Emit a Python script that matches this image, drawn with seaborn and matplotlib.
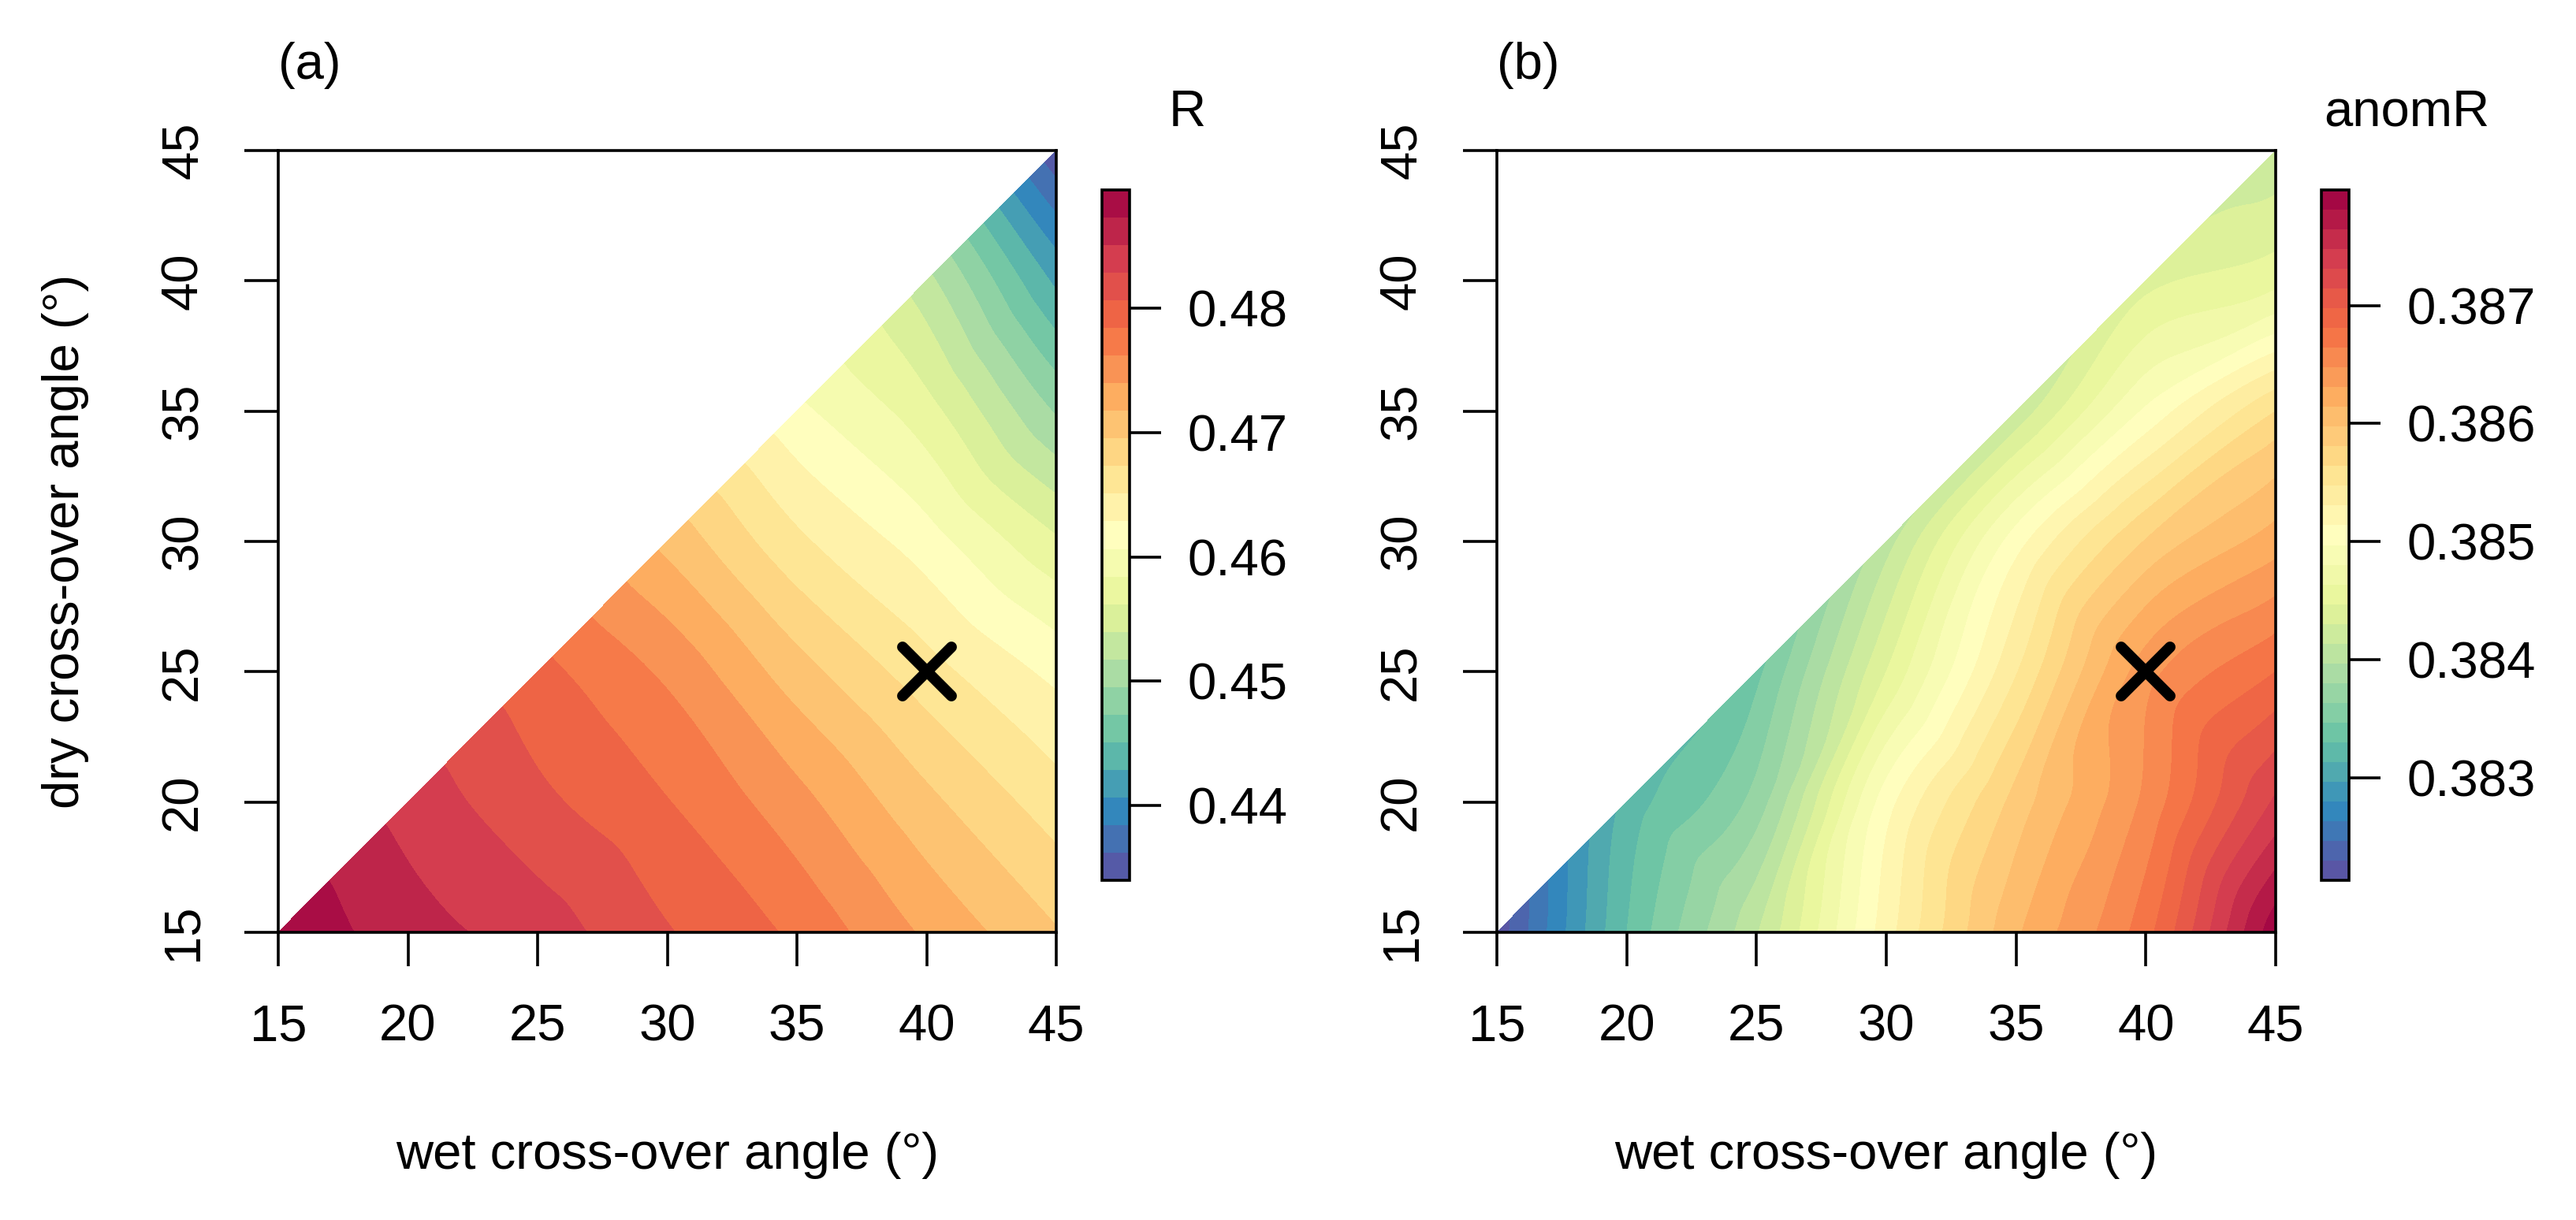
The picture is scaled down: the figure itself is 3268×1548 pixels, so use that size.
import numpy as np
import pandas as pd
import matplotlib
matplotlib.use("Agg")
import matplotlib.pyplot as plt
import matplotlib.tri as mtri
from matplotlib.markers import MarkerStyle
import seaborn as sns

sns.set_theme(style="white")
plt.rcParams['font.family'] = ['Liberation Sans', 'DejaVu Sans']
plt.rcParams.update({'text.color': 'black', 'axes.labelcolor': 'black',
                     'xtick.color': 'black', 'ytick.color': 'black'})

nan = np.nan
angles = [15, 20, 25, 30, 35, 40, 45]

# rows: dry cross-over angle 15 -> 45, columns: wet cross-over angle 15 -> 45
r_values = [
    [0.4893, 0.4860, 0.4840, 0.4808, 0.4779, 0.4736, 0.4697],
    [nan, 0.4842, 0.4812, 0.4785, 0.4747, 0.4701, 0.4661],
    [nan, nan, 0.4791, 0.4757, 0.4705, 0.4660, 0.4622],
    [nan, nan, nan, 0.4711, 0.4656, 0.4616, 0.4565],
    [nan, nan, nan, nan, 0.4612, 0.4570, 0.4493],
    [nan, nan, nan, nan, nan, 0.4524, 0.4424],
    [nan, nan, nan, nan, nan, nan, 0.4345],
]
anom_values = [
    [0.38219, 0.38330, 0.38412, 0.38523, 0.38611, 0.38675, 0.38792],
    [nan, 0.38318, 0.38371, 0.38506, 0.38587, 0.38652, 0.38734],
    [nan, nan, 0.38342, 0.38447, 0.38546, 0.38640, 0.38681],
    [nan, nan, nan, 0.38406, 0.38506, 0.38582, 0.38623],
    [nan, nan, nan, nan, 0.38418, 0.38500, 0.38564],
    [nan, nan, nan, nan, nan, 0.38441, 0.38459],
    [nan, nan, nan, nan, nan, nan, 0.38418],
]

r_range = (0.4340, 0.4895)
anom_range = (0.38213, 0.38798)
r_ticks = [0.44, 0.45, 0.46, 0.47, 0.48]
anom_ticks = [0.383, 0.384, 0.385, 0.386, 0.387]
axis_ticks = [15, 20, 25, 30, 35, 40, 45]
best_wet, best_dry = 40, 25

cmap = sns.color_palette("Spectral_r", as_cmap=True)
W, H = 3268, 1548
FS = 23.5
LW = 1.3


def to_long(values):
    df = pd.DataFrame(values, index=angles, columns=angles)
    df.index.name = "dry"
    df = df.reset_index().melt(id_vars="dry", var_name="wet", value_name="z")
    return df.dropna()


def draw_panel(fig, ax_box, cax_box, values, vrange, nband, ticks, fmt, key_title, tag, ylabel):
    ax = fig.add_axes([ax_box[0] / W, 1 - ax_box[3] / H, (ax_box[2] - ax_box[0]) / W, (ax_box[3] - ax_box[1]) / H])
    cax = fig.add_axes([cax_box[0] / W, 1 - cax_box[3] / H, (cax_box[2] - cax_box[0]) / W, (cax_box[3] - cax_box[1]) / H])

    d = to_long(values)
    tri = mtri.Triangulation(d["wet"].astype(float).values, d["dry"].astype(float).values)
    interp = mtri.CubicTriInterpolator(tri, d["z"].values, kind="geom")
    tri_f, z_f = mtri.UniformTriRefiner(tri).refine_field(d["z"].values, triinterpolator=interp, subdiv=4)
    levels = np.linspace(vrange[0], vrange[1], nband + 1)
    eps = (vrange[1] - vrange[0]) * 1e-6
    cs = ax.tricontourf(tri_f, np.clip(z_f, vrange[0] + eps, vrange[1] - eps), levels=levels, cmap=cmap)

    ax.plot(best_wet, best_dry, linestyle="none", color="black",
            marker=MarkerStyle("x", capstyle="round"), ms=22, mew=5.0)

    ax.set_xlim(15, 45)
    ax.set_ylim(15, 45)
    ax.set_xticks(axis_ticks)
    ax.set_yticks(axis_ticks)
    ax.tick_params(direction="out", length=15.5, width=LW, pad=17, labelsize=FS,
                   bottom=True, left=True)
    for lab in ax.get_yticklabels():
        lab.set_rotation(90)
        lab.set_va("center")
    for s in ax.spines.values():
        s.set_color("black")
        s.set_linewidth(LW)

    ax.set_xlabel("wet cross-over angle (°)", fontsize=FS)
    ax.xaxis.set_label_coords(0.5, -0.285)
    ax.xaxis.label.set_va("center")
    if ylabel:
        ax.set_ylabel("dry cross-over angle (°)", fontsize=FS)
        ax.yaxis.set_label_coords(-0.2736, 0.5)
        ax.yaxis.label.set_va("center")

    cb = fig.colorbar(cs, cax=cax, ticks=ticks, format=fmt)
    cb.outline.set_linewidth(LW)
    cb.outline.set_edgecolor("black")
    cb.ax.tick_params(direction="out", length=14.4, width=LW, pad=12, labelsize=FS, right=True)

    fig.text(ax_box[0] / W, 1 - 83 / H, tag, fontsize=FS, ha="left", va="center")
    key_x = (cax_box[0] + cax_box[2]) / 2 + 91
    fig.text(key_x / W, 1 - 160 / H, key_title, fontsize=FS, ha="center", va="baseline")
    return ax


fig = plt.figure(figsize=(W / 200, H / 200), dpi=200)
fig.patch.set_facecolor("white")

draw_panel(fig, (353, 191, 1340, 1183), (1398, 241, 1433, 1117), r_values, r_range, 25,
           r_ticks, "%.2f", "R", "(a)", True)
draw_panel(fig, (1899, 191, 2887, 1183), (2945, 241, 2980, 1117), anom_values, anom_range, 35,
           anom_ticks, "%.3f", "anomR", "(b)", False)

fig.savefig("out.png", dpi=200, facecolor="white")
